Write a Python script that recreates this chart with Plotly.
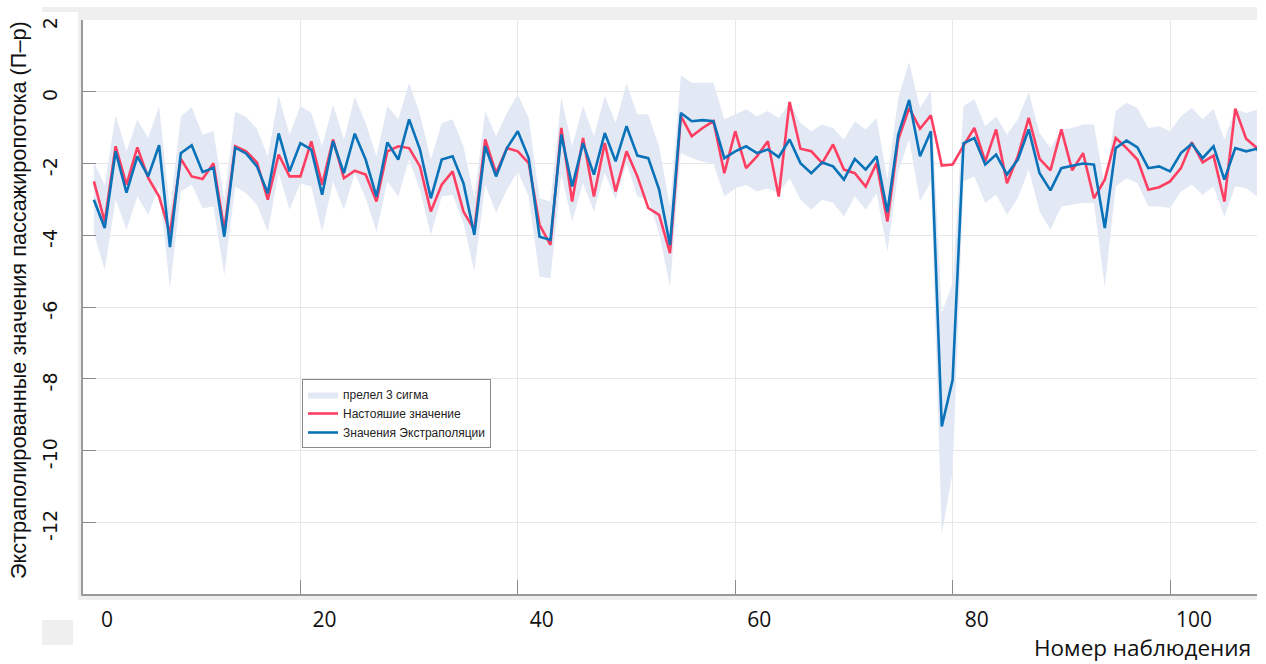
import plotly.graph_objects as go

# ---- data ----
obs = list(range(1, 110))

actual = [-2.50, -3.62, -1.52, -2.59, -1.55, -2.40, -2.92, -3.94, -1.87, -2.36,
          -2.43, -1.99, -3.85, -1.52, -1.66, -1.97, -3.01, -1.75, -2.36, -2.36,
          -1.38, -2.59, -1.33, -2.41, -2.20, -2.31, -3.06, -1.66, -1.52, -1.57,
          -2.08, -3.34, -2.59, -2.22, -3.34, -3.85, -1.33, -2.27, -1.57, -1.66,
          -1.99, -3.71, -4.27, -1.01, -3.06, -1.29, -2.92, -1.43, -2.78, -1.66,
          -2.36, -3.24, -3.43, -4.50, -0.68, -1.24, -1.01, -0.82, -2.27, -1.10,
          -2.13, -1.80, -1.38, -2.92, -0.28, -1.59, -1.66, -1.99, -1.47, -2.17,
          -2.27, -2.64, -1.99, -3.62, -1.33, -0.45, -1.03, -0.66, -2.06, -2.03,
          -1.50, -1.01, -1.94, -1.05, -2.55, -1.80, -0.73, -1.87, -2.19, -1.05,
          -2.19, -1.71, -2.97, -2.45, -1.29, -1.57, -1.89, -2.73, -2.66, -2.50,
          -2.13, -1.41, -1.97, -1.78, -3.06, -0.47, -1.31, -1.57, -1.75]

extrapolated = [-3.01, -3.80, -1.66, -2.81, -1.80, -2.36, -1.49, -4.33, -1.71, -1.49,
                -2.24, -2.12, -4.04, -1.56, -1.72, -2.08, -2.83, -1.16, -2.22, -1.43,
                -1.61, -2.87, -1.38, -2.27, -1.17, -1.89, -2.92, -1.41, -1.89, -0.77,
                -1.61, -2.97, -1.89, -1.80, -2.55, -3.99, -1.52, -2.36, -1.57, -1.10,
                -1.85, -4.04, -4.13, -1.19, -2.64, -1.43, -2.31, -1.15, -1.94, -0.96,
                -1.78, -1.85, -2.73, -4.27, -0.59, -0.82, -0.79, -0.82, -1.85, -1.66,
                -1.52, -1.71, -1.61, -1.82, -1.33, -1.99, -2.27, -1.97, -2.08, -2.45,
                -1.87, -2.17, -1.80, -3.36, -1.19, -0.23, -1.80, -1.10, -9.33, -8.03,
                -1.44, -1.29, -2.03, -1.75, -2.31, -1.89, -1.05, -2.27, -2.75, -2.13,
                -2.06, -2.00, -2.03, -3.80, -1.57, -1.36, -1.55, -2.13, -2.08, -2.22,
                -1.71, -1.45, -1.85, -1.52, -2.45, -1.57, -1.66, -1.59, -2.30]

band_upper = [-1.95, -2.60, -0.64, -1.66, -0.78, -1.29, -0.40, -3.30, -0.68, -0.43,
              -1.19, -1.10, -3.00, -0.56, -0.70, -1.03, -1.80, -0.12, -1.19, -0.40,
              -0.59, -1.52, -0.35, -1.33, -0.14, -0.87, -1.80, -0.40, -0.77, 0.25,
              -0.63, -1.89, -0.87, -0.77, -1.52, -2.95, -0.54, -1.24, -0.59, -0.07,
              -0.73, -2.97, -3.06, -0.17, -1.52, -0.40, -1.24, -0.12, -0.87, 0.23,
              -0.63, -0.63, -1.52, -3.20, 0.46, 0.25, 0.25, 0.25, -0.77, -0.63,
              -0.49, -0.68, -0.54, -0.73, -0.31, -0.87, -1.10, -0.91, -1.01, -1.33,
              -0.82, -1.05, -0.73, -2.45, -0.17, 0.83, -0.45, 0.05, -6.17, -5.33,
              -0.40, -0.21, -0.96, -0.68, -1.19, -0.77, -0.01, -1.15, -1.57, -1.05,
              -1.01, -0.91, -0.91, -2.64, -0.54, -0.31, -0.45, -1.01, -0.96, -1.10,
              -0.68, -0.45, -0.77, -0.48, -1.33, -0.49, -0.59, -0.49, -1.20]

band_lower = [-3.94, -4.97, -3.00, -3.85, -2.92, -3.43, -2.64, -5.50, -2.78, -2.59,
              -3.25, -3.20, -5.11, -2.64, -2.83, -3.15, -3.90, -2.26, -3.29, -2.55,
              -2.64, -3.90, -2.50, -3.29, -2.27, -2.97, -3.90, -2.50, -2.92, -1.89,
              -2.73, -3.99, -2.92, -2.87, -3.66, -5.02, -2.59, -3.38, -2.73, -2.22,
              -2.92, -5.16, -5.20, -2.31, -3.62, -2.55, -3.34, -2.27, -3.01, -1.99,
              -2.92, -3.01, -3.94, -5.44, -1.71, -1.85, -1.95, -2.00, -2.92, -2.69,
              -2.59, -2.78, -2.69, -2.83, -2.41, -3.01, -3.29, -3.01, -3.10, -3.48,
              -2.92, -3.29, -2.83, -4.46, -2.22, -1.33, -3.06, -2.50, -12.35, -10.60,
              -2.50, -2.36, -3.10, -2.87, -3.43, -2.97, -2.17, -3.34, -3.85, -3.20,
              -3.15, -3.10, -3.10, -5.44, -2.64, -2.41, -2.55, -3.20, -3.20, -3.24,
              -2.78, -2.59, -2.87, -2.64, -3.48, -2.64, -2.69, -2.92, -3.30]

x_ticks = [0, 20, 40, 60, 80, 100]
x_tick_text = ["0", "20", "40", "60", "80", "100"]
y_ticks = [-12, -10, -8, -6, -4, -2, 0, 2]
y_tick_text = ["-12", "-10", "-8", "-6", "-4", "-2", "0", "2"]

labels = ["прелел 3 сигма", "Настояшие значение", "Значения Экстраполяции"]
y_title = "Экстраполированные значения пассажиропотока (П–р)"
x_title = "Номер наблюдения"

# ---- styling ----
W, H = 1266, 664
L, R, T, B = 83, 9, 20, 70
PW, PH = W - L - R, H - T - B
BAND = "rgb(227,233,244)"
RED = "#ff3f62"
BLUE = "#0a72b8"


def px(xp):
    return (xp - L) / PW


def py(yp):
    return (H - B - yp) / PH


fig = go.Figure()
fig.add_trace(go.Scatter(
    x=obs + obs[::-1], y=band_upper + band_lower[::-1],
    fill="toself", fillcolor=BAND, line=dict(width=0), mode="lines",
    name=labels[0], hoverinfo="skip"))
fig.add_trace(go.Scatter(x=obs, y=actual, mode="lines", name=labels[1],
                         line=dict(color=RED, width=2.6)))
fig.add_trace(go.Scatter(x=obs, y=extrapolated, mode="lines", name=labels[2],
                         line=dict(color=BLUE, width=2.6)))

grey = "#efefef"
shapes = [
    dict(x0=px(42), x1=px(1257), y0=py(7), y1=py(12)),
    dict(x0=px(78), x1=px(1257), y0=py(12), y1=py(20)),
    dict(x0=px(78), x1=px(83), y0=py(20), y1=py(600)),
    dict(x0=px(78), x1=px(1257), y0=py(594), y1=py(600)),
    dict(x0=px(42), x1=px(73), y0=py(620), y1=py(645)),
]
for s in shapes:
    s.update(type="rect", xref="paper", yref="paper", fillcolor=grey,
             line=dict(width=0), layer="below")

fig.update_layout(
    width=W, height=H,
    margin=dict(l=L, r=R, t=T, b=B, pad=0, autoexpand=False),
    paper_bgcolor="white", plot_bgcolor="white",
    shapes=shapes,
    showlegend=True,
    legend=dict(x=px(302), y=py(379), xanchor="left", yanchor="top",
                bgcolor="white", bordercolor="#8a8a8a", borderwidth=1,
                font=dict(family="Liberation Sans, Arial, sans-serif",
                          size=12, color="#222"),
                itemwidth=30, tracegroupgap=0),
    xaxis=dict(range=[0, 108], tickvals=x_ticks, ticktext=x_tick_text,
               automargin=False, showgrid=True,
               gridcolor="#e6e6e6", gridwidth=1, zeroline=False,
               showline=True, linecolor="#9a9a9a", linewidth=2,
               ticks="inside", ticklen=14, tickcolor="#8a8a8a", tickwidth=1,
               tickfont=dict(family="Open Sans, sans-serif", size=21, color="#111"),
               ticklabelshift=24, ticklabelstandoff=6),
    yaxis=dict(range=[-14, 2], tickvals=y_ticks, ticktext=y_tick_text,
               automargin=False, showgrid=True,
               gridcolor="#e6e6e6", gridwidth=1, zeroline=False,
               showline=True, linecolor="#9a9a9a", linewidth=2,
               ticks="inside", ticklen=13, tickcolor="#8a8a8a", tickwidth=1,
               tickangle=-90,
               tickfont=dict(family="DejaVu Sans, sans-serif", size=19, color="#111"),
               ticklabelshift=6, ticklabelstandoff=16),
    annotations=[
        dict(text=y_title, xref="paper", yref="paper", x=px(18), y=py(300),
             xanchor="center", yanchor="middle", textangle=-90, showarrow=False,
             font=dict(family="Liberation Sans, Arial, sans-serif", size=21.7, color="#111")),
        dict(text=x_title, xref="paper", yref="paper", x=px(1253), y=py(647),
             xanchor="right", yanchor="middle", showarrow=False,
             font=dict(family="Open Sans, sans-serif", size=22.5, color="#111")),
    ],
)

fig.write_html("out.html", config={"displayModeBar": False},
               post_script="document.body.style.margin='0';document.body.style.overflow='hidden';")
